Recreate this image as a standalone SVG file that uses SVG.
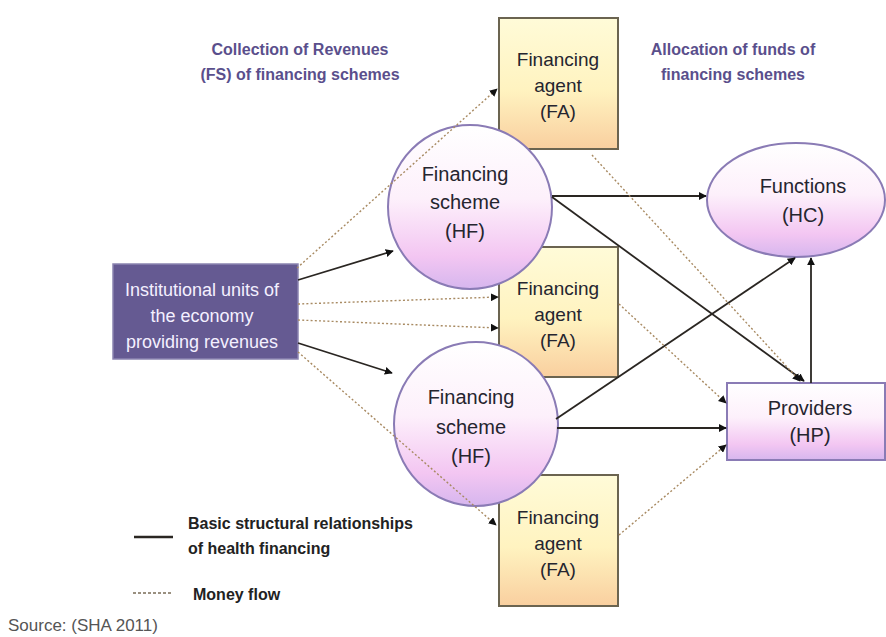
<svg xmlns="http://www.w3.org/2000/svg" width="886" height="637" viewBox="0 0 886 637">
<defs>
<linearGradient id="gFA" x1="0" y1="0" x2="0" y2="1">
<stop offset="0" stop-color="#fffbd8"/><stop offset="0.55" stop-color="#fff3c0"/><stop offset="1" stop-color="#f9cf9f"/>
</linearGradient>
<linearGradient id="gHF" x1="0" y1="0" x2="0" y2="1">
<stop offset="0" stop-color="#ffffff"/><stop offset="0.45" stop-color="#fdf0fb"/><stop offset="0.8" stop-color="#f3c6f2"/><stop offset="1" stop-color="#d6b6ee"/>
</linearGradient>
<marker id="arr" viewBox="0 0 10 10" refX="9" refY="5" markerWidth="8" markerHeight="8" markerUnits="userSpaceOnUse" orient="auto">
<path d="M0,0 L10,5 L0,10 z" fill="#111"/>
</marker>
<style>
.fa{fill:url(#gFA);stroke:#6b6450;stroke-width:2}
.hf{fill:url(#gHF);stroke:#8a7bb5;stroke-width:2}
.t{font-family:"Liberation Sans Narrow","Liberation Sans",Arial,sans-serif;font-size:20px;fill:#25252f;text-anchor:middle}
.f{font-size:19px}
.w{font-family:"Liberation Sans Narrow","Liberation Sans",Arial,sans-serif;font-size:18px;fill:#f4f0ff;text-anchor:middle}
.h{font-family:"Liberation Sans Narrow","Liberation Sans",Arial,sans-serif;font-size:16px;font-weight:bold;fill:#5a4f8c;text-anchor:middle}
.lg{font-family:"Liberation Sans Narrow","Liberation Sans",Arial,sans-serif;font-size:16px;font-weight:bold;fill:#222}
.s{stroke:#2a2622;stroke-width:1.8;fill:none}
.d{stroke:#a88a62;stroke-width:1.4;stroke-dasharray:2 2.2;fill:none}
</style>
</defs>
<rect width="886" height="637" fill="#ffffff"/>
<text class="h" x="300" y="55">Collection of Revenues</text>
<text class="h" x="300" y="80">(FS) of financing schemes</text>
<text class="h" x="733" y="55">Allocation of funds of</text>
<text class="h" x="733" y="80">financing schemes</text>
<g id="fa1"><rect class="fa" x="499" y="18" width="119" height="131"/>
<text class="t f" x="558" y="66">Financing</text><text class="t f" x="558" y="92">agent</text><text class="t f" x="558" y="118">(FA)</text></g>
<g id="fa2"><rect class="fa" x="499" y="247" width="119" height="130"/>
<text class="t f" x="558" y="295">Financing</text><text class="t f" x="558" y="321">agent</text><text class="t f" x="558" y="347">(FA)</text></g>
<g id="fa3"><rect class="fa" x="499" y="475" width="119" height="131"/>
<text class="t f" x="558" y="524">Financing</text><text class="t f" x="558" y="550">agent</text><text class="t f" x="558" y="576">(FA)</text></g>
<g id="hf1"><circle class="hf" cx="470" cy="207" r="82"/>
<text class="t" x="465" y="181">Financing</text><text class="t" x="465" y="209">scheme</text><text class="t" x="465" y="238">(HF)</text></g>
<g id="hf2"><circle class="hf" cx="476" cy="424" r="82"/>
<text class="t" x="471" y="404">Financing</text><text class="t" x="471" y="434">scheme</text><text class="t" x="471" y="463">(HF)</text></g>
<g id="hc"><ellipse class="hf" cx="796" cy="200" rx="89" ry="57"/>
<text class="t" x="803" y="193">Functions</text><text class="t" x="803" y="222">(HC)</text></g>
<g id="hp"><rect class="hf" x="727" y="383" width="158" height="77"/>
<text class="t" x="810" y="415">Providers</text><text class="t" x="810" y="442">(HP)</text></g>
<g id="inst"><rect x="113" y="264" width="185" height="95" fill="#655a92" stroke="#8b84b0" stroke-width="1.5"/>
<text class="w" x="202" y="296">Institutional units of</text><text class="w" x="202" y="322">the economy</text><text class="w" x="202" y="348">providing revenues</text></g>
<g id="connectors">
<line class="s" x1="298" y1="280" x2="393" y2="251" marker-end="url(#arr)"/>
<line class="s" x1="298" y1="343" x2="392" y2="373" marker-end="url(#arr)"/>
<line class="s" x1="552" y1="196" x2="706" y2="196" marker-end="url(#arr)"/>
<line class="s" x1="552" y1="197" x2="804" y2="381" marker-end="url(#arr)"/>
<line class="s" x1="556" y1="419" x2="795" y2="258" marker-end="url(#arr)"/>
<line class="s" x1="557" y1="428" x2="726" y2="428" marker-end="url(#arr)"/>
<line class="s" x1="811" y1="383" x2="811" y2="258" marker-end="url(#arr)"/>
<line class="d" x1="297" y1="268" x2="497" y2="89" marker-end="url(#arr)"/>
<line class="d" x1="298" y1="304" x2="498" y2="297" marker-end="url(#arr)"/>
<line class="d" x1="298" y1="320" x2="498" y2="328" marker-end="url(#arr)"/>
<line class="d" x1="298" y1="352" x2="496" y2="525" marker-end="url(#arr)"/>
<line class="d" x1="592" y1="155" x2="800" y2="381" marker-end="url(#arr)"/>
<line class="d" x1="619" y1="304" x2="726" y2="403" marker-end="url(#arr)"/>
<line class="d" x1="619" y1="535" x2="726" y2="445" marker-end="url(#arr)"/>
</g>
<g id="legend">
<line x1="134" y1="537" x2="173" y2="537" stroke="#2a2622" stroke-width="2.5"/>
<text class="lg" x="188" y="529">Basic structural relationships</text>
<text class="lg" x="188" y="554">of health financing</text>
<line x1="133" y1="593" x2="173" y2="593" stroke="#9a9080" stroke-width="2" stroke-dasharray="3 2"/>
<text class="lg" x="193" y="600">Money flow</text>
</g>
<text x="8" y="631" font-family="Liberation Sans Narrow,Liberation Sans,Arial,sans-serif" font-size="17" fill="#555">Source: (SHA 2011)</text>
</svg>
